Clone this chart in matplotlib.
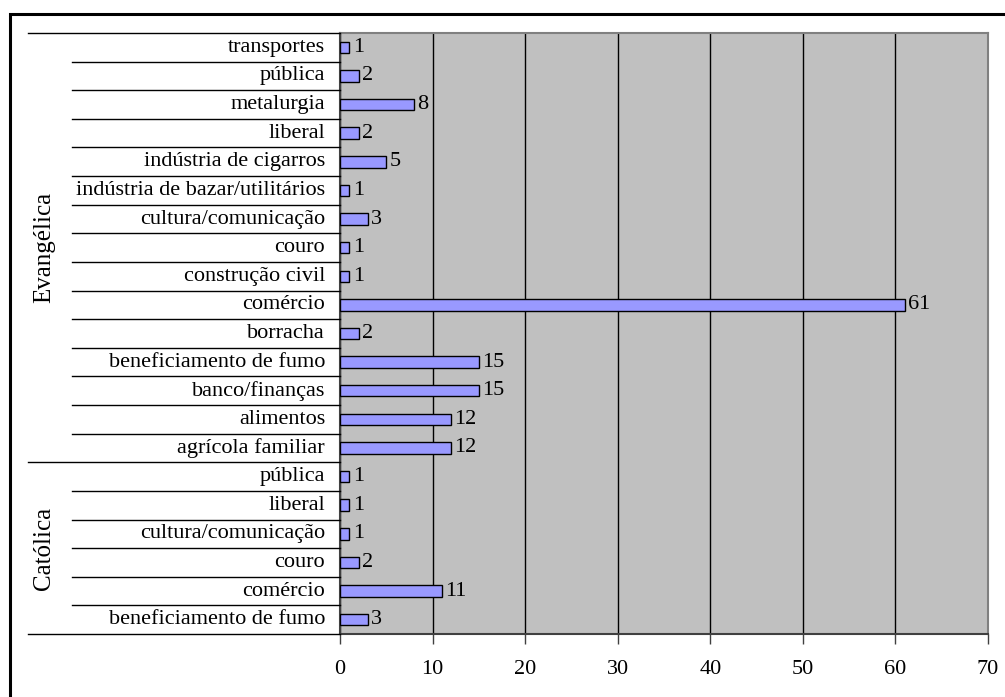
import matplotlib
matplotlib.use("Agg")
import matplotlib.pyplot as plt
from matplotlib.patches import Rectangle
from matplotlib.transforms import blended_transform_factory

# Occupations by religious group (bottom to top)
groups = ["Católica", "Evangélica"]
catolica_labels = ["beneficiamento de fumo", "comércio", "couro",
                   "cultura/comunicação", "liberal", "pública"]
catolica_values = [3, 11, 2, 1, 1, 1]
evangelica_labels = ["agrícola familiar", "alimentos", "banco/finanças",
                     "beneficiamento de fumo", "borracha", "comércio",
                     "construção civil", "couro", "cultura/comunicação",
                     "indústria de bazar/utilitários", "indústria de cigarros",
                     "liberal", "metalurgia", "pública", "transportes"]
evangelica_values = [12, 12, 15, 15, 2, 61, 1, 1, 3, 1, 5, 2, 8, 2, 1]
x_ticks = [0, 10, 20, 30, 40, 50, 60, 70]

labels = catolica_labels + evangelica_labels
values = catolica_values + evangelica_values
group_sizes = [len(catolica_labels), len(evangelica_labels)]

plt.rcParams["font.family"] = ["Liberation Serif", "DejaVu Serif"]
FS = 16

W, H = 1005, 697
fig = plt.figure(figsize=(W / 100, H / 100), dpi=100)
fig.patch.set_facecolor("white")

# outer frame (open to the right and bottom)
fig.add_artist(Rectangle((10 / W, -0.05), 1.2, (H - 14) / H + 0.05,
                         transform=fig.transFigure, fill=False,
                         edgecolor="black", linewidth=2.2))

left, right, top, bottom = 340, 988, 33, 634
ax = fig.add_axes([left / W, 1 - bottom / H, (right - left) / W, (bottom - top) / H])
ax.set_facecolor("#c0c0c0")

n = len(labels)
ys = list(range(n))
ax.barh(ys, values, height=0.4, color="#9999ff", edgecolor="black",
        linewidth=1.0, zorder=3)
for y, v in zip(ys, values):
    ax.annotate(str(v), (v, y), xytext=(2.5, 0), textcoords="offset points",
                va="center", ha="left", fontsize=FS, zorder=4)

ax.set_xlim(0, 70)
ax.set_ylim(-0.5, n - 0.5)
ax.set_xticks(x_ticks)
ax.set_xticklabels([str(t) for t in x_ticks], fontsize=FS)
ax.tick_params(axis="x", length=7, width=1.0, color="#404040", pad=12)
ax.set_yticks([])
ax.grid(axis="x", color="black", linewidth=1.0, zorder=1)
for s in ax.spines.values():
    s.set_color("#808080")
    s.set_linewidth(1.5)
ax.spines["left"].set_color("#404040")
ax.spines["bottom"].set_color("#404040")

# category labels and row separators in the label area
trans = blended_transform_factory(fig.transFigure, ax.transData)
for y, lab in zip(ys, labels):
    fig.text((left - 15) / W, 0, lab, transform=trans, ha="right", va="center",
             fontsize=FS).set_y(y)

bounds = [-0.5]
acc = -0.5
for g in group_sizes:
    acc += g
    bounds.append(acc)
for k in range(n + 1):
    yb = k - 0.5
    x0 = 28 if yb in bounds else 72
    fig.add_artist(plt.Line2D([x0 / W, left / W], [yb, yb], transform=trans,
                              color="black", linewidth=1.0))

# group labels
start = 0
for g, size in zip(groups, group_sizes):
    mid = start + (size - 1) / 2
    fig.text(44 / W, 0, g, transform=trans, rotation=90, ha="center",
             va="center", fontsize=18).set_y(mid)
    start += size

fig.savefig("out.png", dpi=100, facecolor="white")
